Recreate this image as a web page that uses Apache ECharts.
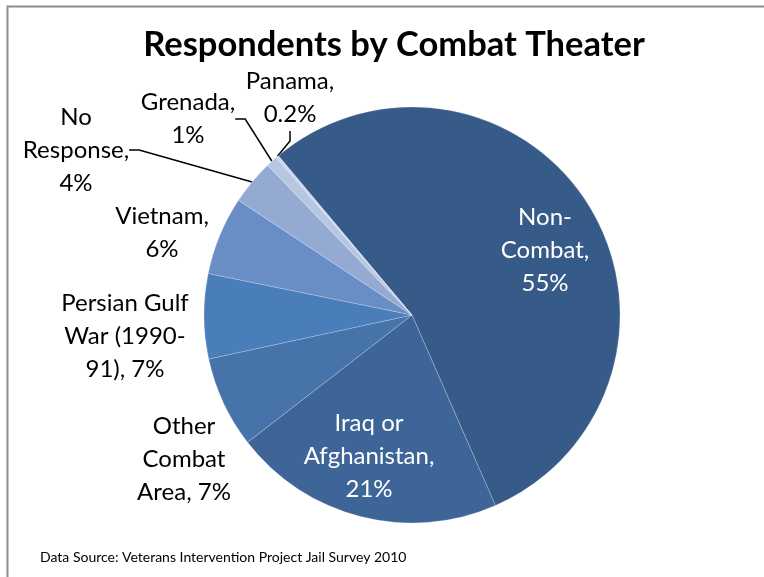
<!DOCTYPE html>
<html>
<head>
<meta charset="utf-8">
<script src="https://cdn.jsdelivr.net/npm/echarts@6/dist/echarts.min.js"></script>
<style>
  html, body { margin: 0; padding: 0; background: #fff; }
  #chart { width: 764px; height: 577px; }
</style>
</head>
<body>
<div id="chart"></div>
<script>
// theaters, clockwise from the Non-Combat slice
var theaters = ['Non-Combat', 'Iraq or Afghanistan', 'Other Combat Area', 'Persian Gulf War (1990-91)',
                'Vietnam', 'No Response', 'Grenada', 'Panama'];
var wrapped = ['Non-\nCombat,', 'Iraq or\nAfghanistan,', 'Other\nCombat\nArea,', 'Persian Gulf\nWar (1990-\n91),',
               'Vietnam,', 'No\nResponse,', 'Grenada,', 'Panama,'];
var percents = [54.6, 21.1, 7.1, 6.6, 6.1, 3.5, 0.9, 0.2];
var colors = ['#375b88', '#3e6598', '#4573aa', '#4a7ebb', '#698dc5', '#95aad3', '#b7c6e3', '#cad6eb'];

// where each label sits (Excel-like placement)
var labelPos = [[545, 250], [369, 456], [184, 459], [125, 336], [162, 233], [76, 150], [188, 119], [290, 98]];

function pctText(v) {
    return (v < 0.5 ? v.toFixed(1) : Math.round(v)) + '%';
}

var myChart = echarts.init(document.getElementById('chart'));
var data = theaters.map(function (n, i) {
    var inside = i < 2;
    var sep = (i === 2 || i === 3) ? ' ' : '\n';
    return {
        name: n,
        value: percents[i],
        itemStyle: { color: colors[i] },
        label: {
            formatter: wrapped[i] + sep + pctText(percents[i]),
            color: inside ? '#ffffff' : '#000000'
        },
        labelLine: { show: i >= 5 }
    };
});

var option = {
    animation: false,
    title: {
        text: 'Respondents by Combat Theater',
        left: 389,
        top: 22,
        textAlign: 'center',
        textStyle: { fontFamily: 'Lato', fontWeight: 'bold', fontSize: 34.5, color: '#000' }
    },
    graphic: [
        { type: 'rect', shape: { x: 7.5, y: 6.5, width: 800, height: 800 },
          style: { fill: 'none', stroke: '#8c8c8c', lineWidth: 2 }, silent: true },
        { type: 'text', left: 40, top: 550,
          style: { text: 'Data Source: Veterans Intervention Project Jail Survey 2010',
                   font: '14px Lato', fill: '#000' } }
    ],
    series: [{
        type: 'pie',
        center: [412, 315],
        radius: [0, 208],
        startAngle: 130,
        clockwise: true,
        avoidLabelOverlap: false,
        itemStyle: { borderColor: 'rgba(255,255,255,0.35)', borderWidth: 0.6 },
        label: {
            show: true,
            position: 'outside',
            fontFamily: 'Lato',
            fontSize: 24,
            lineHeight: 33,
            align: 'center'
        },
        labelLine: {
            show: false,
            length: 20,
            length2: 10,
            lineStyle: { color: '#000', width: 1.5 }
        },
        labelLayout: function (params) {
            var p = labelPos[params.dataIndex];
            return { x: p[0], y: p[1], align: 'center', verticalAlign: 'middle' };
        },
        data: data
    }]
};
myChart.setOption(option);
</script>
</body>
</html>
